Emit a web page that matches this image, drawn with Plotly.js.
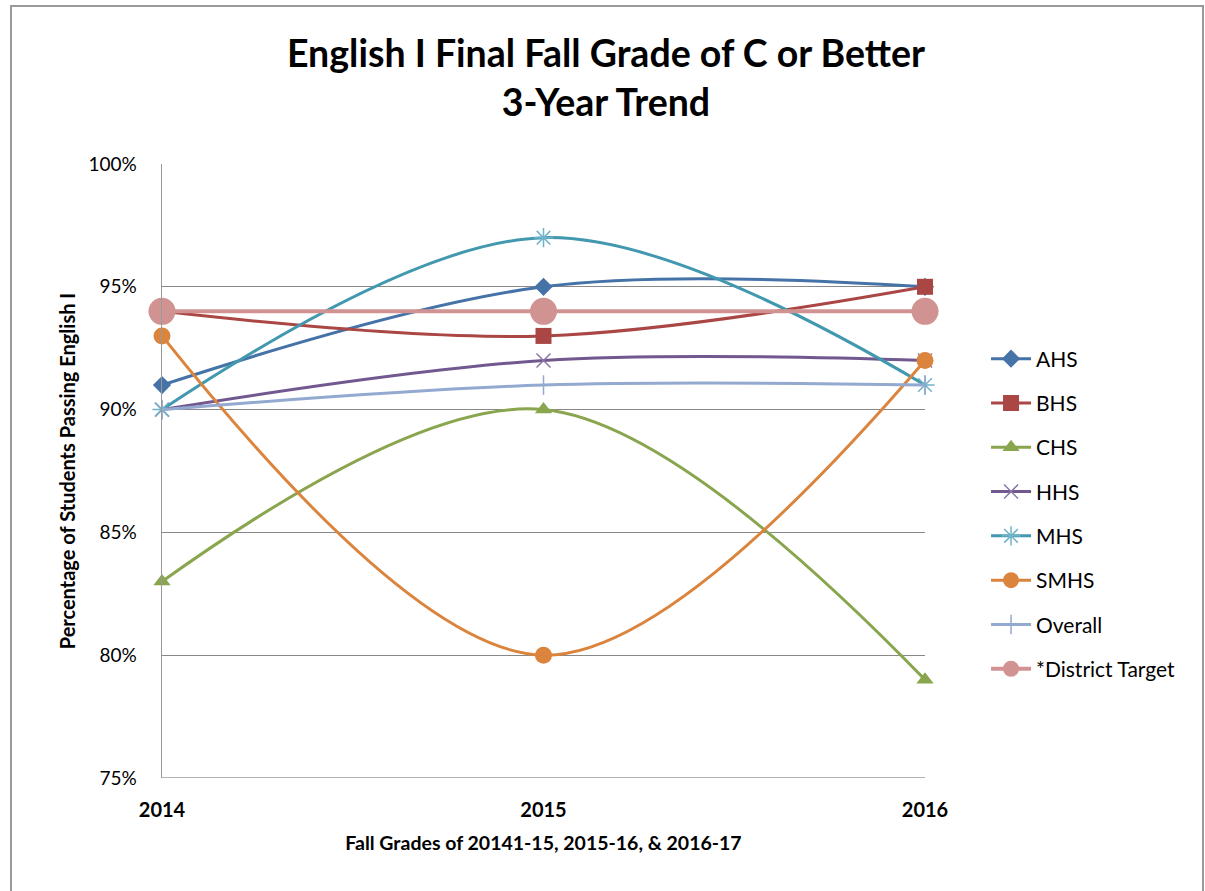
<!DOCTYPE html>
<html>
<head>
<meta charset="utf-8">
<script src="https://cdn.plot.ly/plotly-3.0.1.min.js"></script>
<style>
  html, body { margin: 0; padding: 0; background: #fff; }
  #chart { width: 1205px; height: 891px; }
</style>
</head>
<body>
<div id="chart"></div>
<script>
const years = ["2014", "2015", "2016"];
const AHS = [0.91, 0.95, 0.95];
const BHS = [0.94, 0.93, 0.95];
const CHS = [0.83, 0.90, 0.79];
const HHS = [0.90, 0.92, 0.92];
const MHS = [0.90, 0.97, 0.91];
const SMHS = [0.93, 0.80, 0.92];
const Overall = [0.90, 0.91, 0.91];
const DistrictTarget = [0.94, 0.94, 0.94];
const yTicks = [0.75, 0.80, 0.85, 0.90, 0.95, 1.00];
const yTickText = ["75%", "80%", "85%", "90%", "95%", "100%"];

const FONT = "Lato, 'Open Sans', sans-serif";

function series(name, y, color, symbol, size, width, mcolor, mline) {
  return {
    type: "scatter", mode: "lines+markers", name: name, x: years, y: y,
    legendgroup: name, cliponaxis: false,
    line: { color: color, width: width, shape: "spline", smoothing: 1 },
    marker: { symbol: symbol, size: size, color: mcolor || color,
              line: { color: mcolor || color, width: mline || 0 } },
    hoverinfo: "skip"
  };
}

const traces = [
  series("AHS", AHS, "#4572A7", "diamond", 14, 3),
  series("BHS", BHS, "#AA4643", "square", 16, 3),
  series("CHS", CHS, "#89A54E", "triangle-up", 15, 3),
  series("HHS", HHS, "#71588F", "x-thin-open", 14, 3, "#8A78A8", 1.5),
  series("MHS", MHS, "#4198AF", "asterisk-open", 16, 3, "#6FB3C8", 1.5),
  series("SMHS", SMHS, "#DB843D", "circle", 17, 3),
  series("Overall", Overall, "#93A9CF", "line-ns-open", 14, 3, "#93A9CF", 1.5),
  series("*District Target", DistrictTarget, "#D19392", "circle", 27, 4)
];

const layout = {
  width: 1205, height: 891,
  paper_bgcolor: "#fff", plot_bgcolor: "#fff",
  margin: { l: 162, r: 280, t: 164, b: 113 },
  font: { family: FONT, color: "#000" },
  showlegend: true,
  title: {
    text: "English I Final Fall Grade of C or Better<br>3-Year Trend",
    font: { family: FONT, size: 37.5, color: "#000", weight: "bold" },
    x: 606 / 1205, xanchor: "center", xref: "container",
    y: 1 - 67 / 891, yanchor: "middle", yref: "container"
  },
  xaxis: {
    type: "category", range: [0, 2],
    showgrid: false, zeroline: false,
    showline: false, ticks: "",
    tickfont: { family: FONT, size: 20, color: "#000", weight: "bold" },
    ticklabelstandoff: 18,
    title: { text: "Fall Grades of 20141-15, 2015-16, & 2016-17",
             font: { family: FONT, size: 19.5, color: "#000", weight: "bold" }, standoff: 16 }
  },
  yaxis: {
    range: [0.75, 1.0], tickvals: yTicks, ticktext: yTickText,
    showgrid: true, gridcolor: "#888", gridwidth: 1,
    zeroline: false, showline: true, linecolor: "#999", linewidth: 1.5,
    ticks: "", ticklabelstandoff: 20,
    tickfont: { family: FONT, size: 19, color: "#000" },
    title: { text: "Percentage of Students Passing English I",
             font: { family: FONT, size: 20, color: "#000", weight: "bold" }, standoff: 7 }
  },
  legend: {
    x: 1.08, xanchor: "left", y: 0.43, yanchor: "middle",
    font: { family: FONT, size: 21, color: "#000" },
    tracegroupgap: 14, itemwidth: 40,
    bgcolor: "rgba(0,0,0,0)"
  },
  shapes: [
    { type: "line", xref: "paper", yref: "y", x0: 0, x1: 1, y0: 0.75, y1: 0.75,
      line: { color: "#999", width: 1.5 }, layer: "below" },
    { type: "rect", xref: "paper", yref: "paper",
      x0: (11 - 162) / 763, x1: (1203 - 162) / 763,
      y0: -0.2, y1: (778 - 6) / 614,
      line: { color: "#999", width: 2 }, fillcolor: "rgba(0,0,0,0)" }
  ]
};

Plotly.newPlot("chart", traces, layout, { displayModeBar: false, staticPlot: true });
</script>
</body>
</html>
